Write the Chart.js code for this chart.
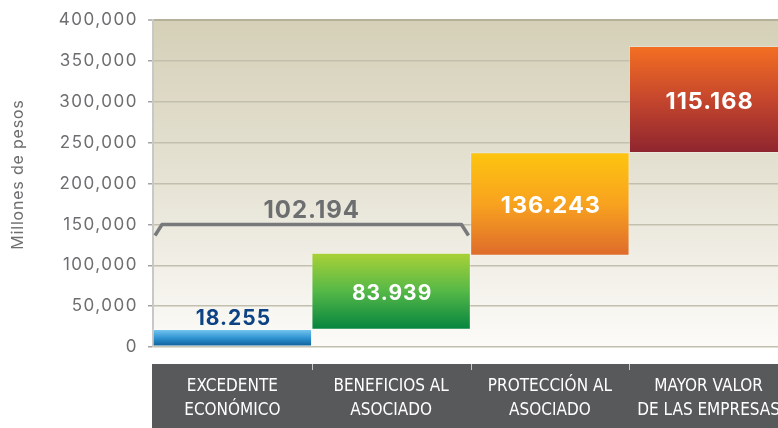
<!DOCTYPE html>
<html>
<head>
<meta charset="utf-8">
<script src="https://cdn.jsdelivr.net/npm/chart.js@4/dist/chart.umd.min.js"></script>
<style>
html,body{margin:0;padding:0;overflow:hidden;background:#fff;width:778px;height:428px}
#wrap{position:absolute;left:0;top:0;width:788px;height:428px}
</style>
</head>
<body>
<div id="wrap"><canvas id="c" width="788" height="428"></canvas></div>
<script>
// ---- data ----
const categories = [
  ["EXCEDENTE", "ECONÓMICO"],
  ["BENEFICIOS AL", "ASOCIADO"],
  ["PROTECCIÓN AL", "ASOCIADO"],
  ["MAYOR VALOR", "DE LAS EMPRESAS"]
];
const barStarts = [0, 21600, 112000, 238000];
const barEnds = [21600, 115000, 238000, 368000];
const valueLabels = ["18.255", "83.939", "136.243", "115.168"];
const bracketLabel = "102.194";
const bracketCategories = [0, 1];
const yTickValues = [0, 50000, 100000, 150000, 200000, 250000, 300000, 350000, 400000];
const yTitle = "Millones de pesos";

// ---- styles ----
const barPalette = [
  ["#78c8f0", "#2f92d2", "#0a5891"],
  ["#aad137", "#55b847", "#05843f"],
  ["#fec50f", "#f8a21f", "#de6b2b"],
  ["#f46f22", "#c5462d", "#8e252f"]
];
const labelStyle = [
  {color: "#0d4383", size: 21, above: true},
  {color: "#ffffff", size: 21, above: false},
  {color: "#ffffff", size: 23.5, above: false},
  {color: "#ffffff", size: 23.5, above: false}
];
const NUM_FONT = "Inter, 'Open Sans', sans-serif";
const CAT_FONT = "'Liberation Sans Narrow', 'DejaVu Sans Condensed', 'Arial Narrow', sans-serif";

function barGradient(c) {
  const i = c.dataIndex;
  const chart = c.chart;
  const ys = chart.scales && chart.scales.y;
  const cs = barPalette[i] || barPalette[0];
  if (!ys || i === undefined) return cs[1];
  const top = ys.getPixelForValue(barEnds[i]);
  const bot = ys.getPixelForValue(barStarts[i]);
  if (!isFinite(top) || !isFinite(bot) || top === bot) return cs[1];
  const g = chart.ctx.createLinearGradient(0, top, 0, bot);
  g.addColorStop(0, cs[0]);
  g.addColorStop(0.5, cs[1]);
  g.addColorStop(1, cs[2]);
  return g;
}

const backgroundPlugin = {
  id: "bgPlugin",
  beforeDraw(chart) {
    const {ctx, chartArea: a, scales} = chart;
    ctx.save();
    const g = ctx.createLinearGradient(0, a.top, 0, a.bottom);
    g.addColorStop(0, "#d5d0b7");
    g.addColorStop(0.5, "#e6e3d5");
    g.addColorStop(1, "#fcfbf8");
    ctx.fillStyle = g;
    ctx.fillRect(a.left, a.top, a.right - a.left, a.bottom - a.top);
    const xs = scales.x;
    const bandTop = a.bottom + 17;
    ctx.fillStyle = "#58595b";
    ctx.fillRect(a.left - 1, bandTop, chart.width - a.left + 1, chart.height - bandTop);
    ctx.strokeStyle = "#c9c9c9";
    ctx.lineWidth = 1;
    for (let i = 1; i < categories.length; i++) {
      const xb = Math.round((xs.getPixelForValue(i - 1) + xs.getPixelForValue(i)) / 2) + 0.5;
      ctx.beginPath();
      ctx.moveTo(xb, bandTop);
      ctx.lineTo(xb, bandTop + 6);
      ctx.stroke();
    }
    ctx.restore();
    const ys = scales.y;
    if (ys && !ys._spaced) {
      const origL = ys.drawLabels.bind(ys);
      ys.drawLabels = function (area) {
        const c = chart.ctx;
        c.save();
        c.letterSpacing = "1.5px";
        origL(area);
        c.restore();
      };
      const origT = ys.drawTitle.bind(ys);
      ys.drawTitle = function () {
        const c = chart.ctx;
        c.save();
        c.letterSpacing = "0.8px";
        c.translate(0, -9);
        origT();
        c.restore();
      };
      ys._spaced = true;
    }
  }
};

const labelsPlugin = {
  id: "labelsPlugin",
  afterDatasetsDraw(chart) {
    const {ctx, scales} = chart;
    const meta = chart.getDatasetMeta(0);
    ctx.save();
    ctx.letterSpacing = "1px";
    ctx.textAlign = "center";
    ctx.textBaseline = "middle";
    meta.data.forEach((bar, i) => {
      const p = bar.getProps(["x", "y", "base"], true);
      const st = labelStyle[i];
      const top = Math.min(p.y, p.base), bot = Math.max(p.y, p.base);
      const y = st.above ? top - 11 : (top + bot) / 2 + 2;
      ctx.font = "bold " + st.size + "px " + NUM_FONT;
      ctx.fillStyle = st.color;
      ctx.fillText(valueLabels[i], p.x + 1, y);
    });
    const xs = scales.x, ys = scales.y;
    const half = (xs.getPixelForValue(1) - xs.getPixelForValue(0)) / 2;
    const x0 = xs.getPixelForValue(bracketCategories[0]) - half + 2;
    const x1 = xs.getPixelForValue(bracketCategories[1]) + half - 2;
    const yTop = ys.getPixelForValue(150000);
    const yEnd = yTop + 11;
    ctx.strokeStyle = "#78797b";
    ctx.lineWidth = 3.5;
    ctx.lineJoin = "round";
    ctx.beginPath();
    ctx.moveTo(x0, yEnd);
    ctx.lineTo(x0 + 7, yTop);
    ctx.lineTo(x1 - 7, yTop);
    ctx.lineTo(x1, yEnd);
    ctx.stroke();
    ctx.font = "bold 24px " + NUM_FONT;
    ctx.fillStyle = "#6d6e70";
    ctx.fillText(bracketLabel, (x0 + x1) / 2, yTop - 14);
    ctx.restore();
  }
};

new Chart(document.getElementById("c"), {
  type: "bar",
  data: {
    labels: categories,
    datasets: [{
      data: barStarts.map((s, i) => [s, barEnds[i]]),
      backgroundColor: barGradient,
      borderColor: "rgba(255,255,255,0.28)",
      borderWidth: 1,
      borderSkipped: false,
      barPercentage: 1,
      categoryPercentage: 1
    }]
  },
  options: {
    responsive: false,
    animation: false,
    devicePixelRatio: 1,
    layout: {padding: {top: 19, right: 0, bottom: 0, left: 0}},
    plugins: {legend: {display: false}, tooltip: {enabled: false}},
    scales: {
      x: {
        grid: {display: false, drawTicks: false},
        border: {display: false},
        ticks: {
          color: "#ffffff",
          font: {family: CAT_FONT, size: 17, lineHeight: 1.4},
          padding: 28,
          maxRotation: 0,
          autoSkip: false
        },
        afterFit(s) { s.height = 81; s.paddingLeft = 0; s.paddingRight = 0; }
      },
      y: {
        min: 0,
        max: 400000,
        afterBuildTicks(s) { s.ticks = yTickValues.map(v => ({value: v})); },
        ticks: {
          callback: v => Number(v).toLocaleString("en-US"),
          color: "#6d6e70",
          font: {family: NUM_FONT, size: 17},
          padding: 10
        },
        grid: {
          color: c => c.tick && c.tick.value === 400000 ? "#b4b09a" : "#c2bfae",
          lineWidth: c => c.tick && c.tick.value === 400000 ? 2 : 1.5,
          tickColor: "#a3a3a3",
          tickLength: 5,
          tickWidth: 1.5
        },
        border: {color: "#c8c8c8", width: 2},
        title: {
          display: true,
          text: yTitle,
          color: "#6d6e70",
          font: {family: NUM_FONT, size: 16},
          padding: {top: 9, bottom: 0}
        },
        afterFit(s) { s.width = 153; }
      }
    }
  },
  plugins: [backgroundPlugin, labelsPlugin]
});
</script>
</body>
</html>
